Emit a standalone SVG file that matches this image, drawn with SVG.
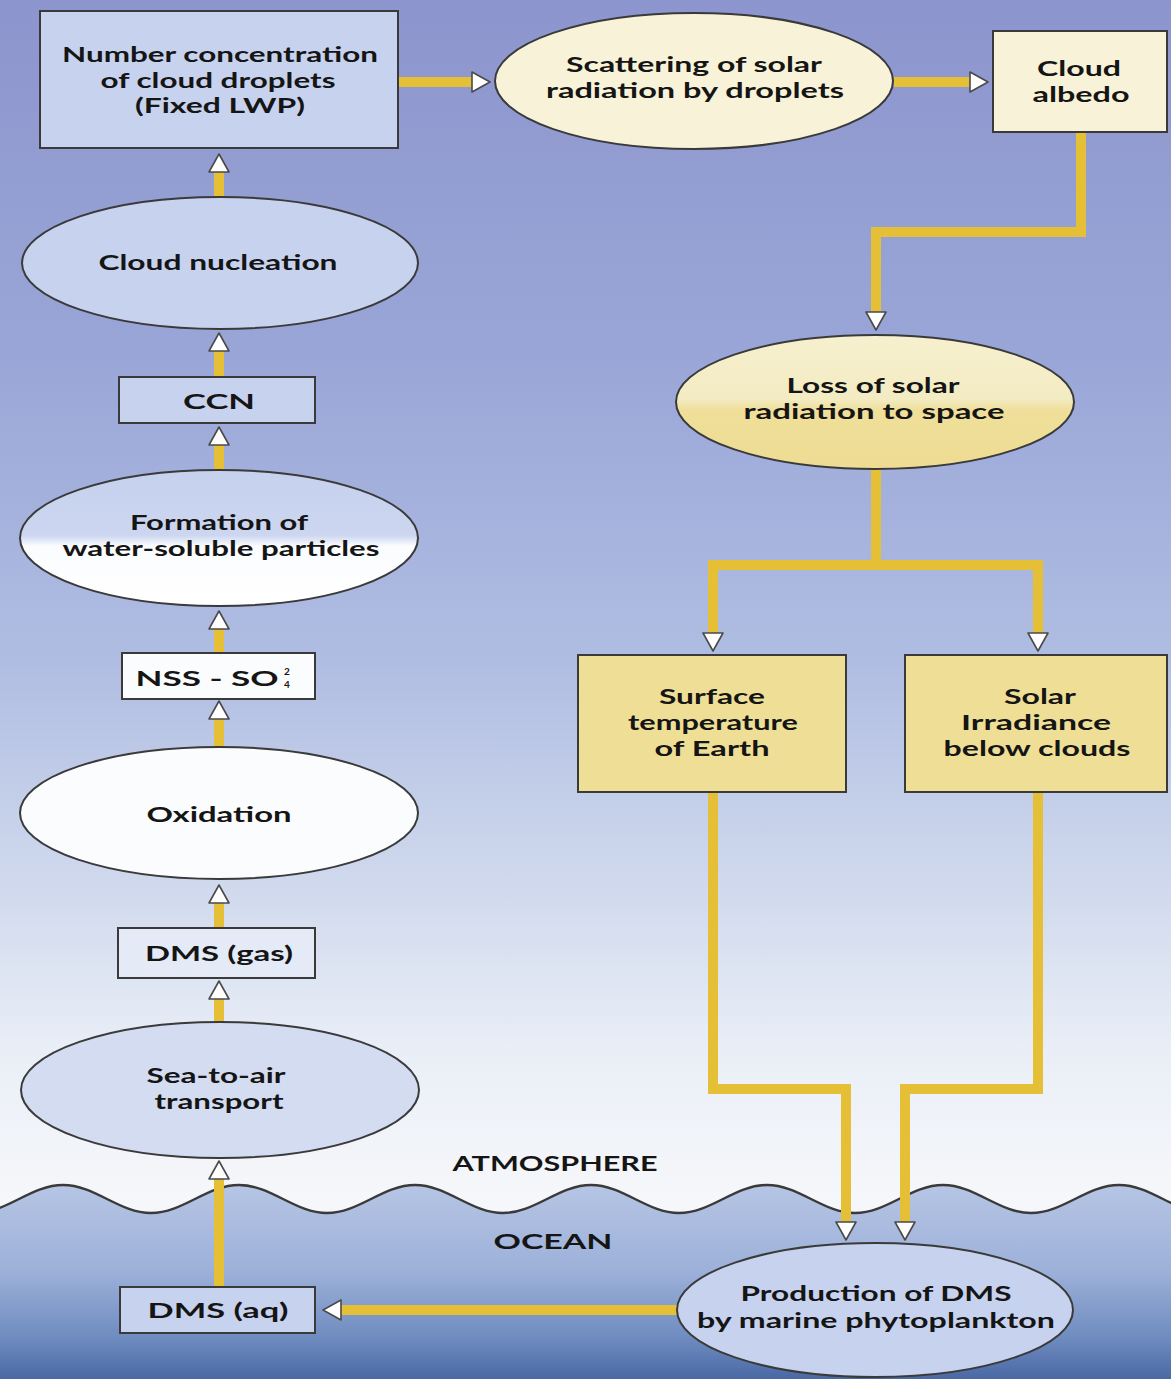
<svg xmlns="http://www.w3.org/2000/svg" width="1171" height="1379" viewBox="0 0 1171 1379">
  <defs>
    <!-- sky fades from violet-blue to near white at the sea surface -->
    <linearGradient id="sky" x1="0" y1="0" x2="0" y2="1200" gradientUnits="userSpaceOnUse">
      <stop offset="0" stop-color="#8c95cd"/>
      <stop offset="0.3" stop-color="#9aa6d7"/>
      <stop offset="0.55" stop-color="#b0bde2"/>
      <stop offset="0.75" stop-color="#d2dbee"/>
      <stop offset="0.88" stop-color="#eaeff7"/>
      <stop offset="1" stop-color="#f6f7fa"/>
    </linearGradient>
    <!-- ocean darkens with depth -->
    <linearGradient id="sea" x1="0" y1="1185" x2="0" y2="1379" gradientUnits="userSpaceOnUse">
      <stop offset="0" stop-color="#b6c5e4"/>
      <stop offset="0.45" stop-color="#9cb0d9"/>
      <stop offset="0.8" stop-color="#6d8abf"/>
      <stop offset="1" stop-color="#4a68a3"/>
    </linearGradient>
    <linearGradient id="halfBlue" x1="0" y1="0" x2="0" y2="1">
      <stop offset="0" stop-color="#c6d1ee"/>
      <stop offset="0.48" stop-color="#ccd6f0"/>
      <stop offset="0.56" stop-color="#fbfcfe"/>
      <stop offset="1" stop-color="#ffffff"/>
    </linearGradient>
    <linearGradient id="halfYellow" x1="0" y1="0" x2="0" y2="1">
      <stop offset="0" stop-color="#f6f0cf"/>
      <stop offset="0.48" stop-color="#f3ebc2"/>
      <stop offset="0.56" stop-color="#efdf9a"/>
      <stop offset="1" stop-color="#eedc93"/>
    </linearGradient>
    <!-- open white arrowhead used by every connector -->
    <marker id="head" viewBox="0 0 20 22" refX="1" refY="11" markerWidth="20" markerHeight="22" orient="auto" markerUnits="userSpaceOnUse">
      <path d="M1,1 L19,11 L1,21 Z" fill="#ffffff" stroke="#4a4a4a" stroke-width="1.6" stroke-linejoin="round"/>
    </marker>
  </defs>
  <style>
    .flow { fill: none; stroke: #e5bf36; stroke-width: 10; stroke-linejoin: miter; stroke-linecap: butt; marker-end: url(#head); }
    .node { stroke: #3a3a3a; stroke-width: 2; }
    .blue { fill: #c7d2ee; }
    .paleblue { fill: #d3dcf1; }
    .white { fill: #fbfcfe; }
    .cream { fill: #f8f3d8; }
    .yellow { fill: #efdf96; }
    text { font-family: Lato, "Liberation Sans", "DejaVu Sans", sans-serif; font-weight: 700; font-size: 21.5px; fill: #151515; text-anchor: middle; }
    .region { font-size: 21px; }
  </style>

  <!-- backdrop: sky, then the sea below the wavy surface -->
  <rect x="0" y="0" width="1171" height="1379" fill="url(#sky)"/>
  <path d="M-25,1213 C7,1213 31,1185 63,1185 C95,1185 119,1213 151,1213 C183,1213 207,1185 239,1185 C271,1185 295,1213 327,1213 C359,1213 383,1185 415,1185 C447,1185 471,1213 503,1213 C535,1213 559,1185 591,1185 C623,1185 647,1213 679,1213 C711,1213 735,1185 767,1185 C799,1185 823,1213 855,1213 C887,1213 911,1185 943,1185 C975,1185 999,1213 1031,1213 C1063,1213 1087,1185 1119,1185 C1151,1185 1175,1213 1207,1213 L1207,1379 L-25,1379 Z" fill="url(#sea)"/>
  <path d="M-25,1213 C7,1213 31,1185 63,1185 C95,1185 119,1213 151,1213 C183,1213 207,1185 239,1185 C271,1185 295,1213 327,1213 C359,1213 383,1185 415,1185 C447,1185 471,1213 503,1213 C535,1213 559,1185 591,1185 C623,1185 647,1213 679,1213 C711,1213 735,1185 767,1185 C799,1185 823,1213 855,1213 C887,1213 911,1185 943,1185 C975,1185 999,1213 1031,1213 C1063,1213 1087,1185 1119,1185 C1151,1185 1175,1213 1207,1213" fill="none" stroke="#3a3a3a" stroke-width="2.5"/>
  <text class="region" x="555" y="1171" textLength="205" lengthAdjust="spacingAndGlyphs">ATMOSPHERE</text>
  <text class="region" x="553" y="1249" textLength="119" lengthAdjust="spacingAndGlyphs">OCEAN</text>

  <g id="connectors">
    <path class="flow" d="M398,82 H472"/>
    <path class="flow" d="M894,82 H970"/>
    <path class="flow" d="M1081,132 V232 H876 V312"/>
    <path class="flow" d="M876,470 V565 H713 V633"/>
    <path class="flow" d="M876,565 H1038 V633"/>
    <path class="flow" d="M713,792 V1089 H846 V1222"/>
    <path class="flow" d="M1038,792 V1089 H905 V1222"/>
    <path class="flow" d="M678,1310 H341"/>
    <path class="flow" d="M219,1287 V1179"/>
    <path class="flow" d="M219,1023 V999"/>
    <path class="flow" d="M219,928 V903"/>
    <path class="flow" d="M219,747 V719"/>
    <path class="flow" d="M219,653 V629"/>
    <path class="flow" d="M219,470 V445"/>
    <path class="flow" d="M219,377 V351"/>
    <path class="flow" d="M219,197 V172"/>
  </g>

  <g id="droplet-number">
    <rect class="node blue" x="40" y="11" width="358" height="137"/>
    <text x="220" y="62" textLength="316" lengthAdjust="spacingAndGlyphs">Number concentration</text>
    <text x="218" y="88" textLength="235" lengthAdjust="spacingAndGlyphs">of cloud droplets</text>
    <text x="220" y="113" textLength="170" lengthAdjust="spacingAndGlyphs">(Fixed LWP)</text>
  </g>

  <g id="scattering">
    <ellipse class="node cream" cx="694" cy="81" rx="199" ry="68"/>
    <text x="694" y="72" textLength="256" lengthAdjust="spacingAndGlyphs">Scattering of solar</text>
    <text x="695" y="98" textLength="298" lengthAdjust="spacingAndGlyphs">radiation by droplets</text>
  </g>

  <g id="cloud-albedo">
    <rect class="node cream" x="993" y="31" width="174" height="101"/>
    <text x="1079" y="76" textLength="84" lengthAdjust="spacingAndGlyphs">Cloud</text>
    <text x="1081" y="102" textLength="97" lengthAdjust="spacingAndGlyphs">albedo</text>
  </g>

  <g id="cloud-nucleation">
    <ellipse class="node blue" cx="220" cy="263" rx="198" ry="66"/>
    <text x="218" y="270" textLength="239" lengthAdjust="spacingAndGlyphs">Cloud nucleation</text>
  </g>

  <g id="ccn">
    <rect class="node blue" x="119" y="377" width="196" height="46"/>
    <text x="219" y="409" textLength="72" lengthAdjust="spacingAndGlyphs">CCN</text>
  </g>

  <g id="particle-formation">
    <ellipse class="node" fill="url(#halfBlue)" cx="219" cy="538" rx="199" ry="68"/>
    <text x="219" y="530" textLength="178" lengthAdjust="spacingAndGlyphs">Formation of</text>
    <text x="221" y="556" textLength="317" lengthAdjust="spacingAndGlyphs">water-soluble particles</text>
  </g>

  <g id="nss-sulfate">
    <rect class="node white" x="122" y="653" width="193" height="46"/>
    <text x="207" y="686" textLength="143" lengthAdjust="spacingAndGlyphs">NSS - SO</text>
    <text x="287" y="675" style="font-size:10px">2</text>
    <text x="287" y="688" style="font-size:10px">4</text>
  </g>

  <g id="oxidation">
    <ellipse class="node white" cx="219" cy="813" rx="199" ry="66"/>
    <text x="219" y="822" textLength="145" lengthAdjust="spacingAndGlyphs">Oxidation</text>
  </g>

  <g id="dms-gas">
    <rect class="node" fill="#e4eaf6" x="118" y="928" width="197" height="50"/>
    <text x="219" y="961" textLength="148" lengthAdjust="spacingAndGlyphs">DMS (gas)</text>
  </g>

  <g id="sea-to-air">
    <ellipse class="node paleblue" cx="220" cy="1090" rx="199" ry="68"/>
    <text x="216" y="1083" textLength="139" lengthAdjust="spacingAndGlyphs">Sea-to-air</text>
    <text x="219" y="1109" textLength="129" lengthAdjust="spacingAndGlyphs">transport</text>
  </g>

  <g id="dms-aq">
    <rect class="node blue" x="120" y="1287" width="195" height="46"/>
    <text x="218" y="1318" textLength="141" lengthAdjust="spacingAndGlyphs">DMS (aq)</text>
  </g>

  <g id="dms-production">
    <ellipse class="node blue" cx="875" cy="1310" rx="198" ry="67"/>
    <text x="876" y="1301" textLength="271" lengthAdjust="spacingAndGlyphs">Production of DMS</text>
    <text x="876" y="1328" textLength="358" lengthAdjust="spacingAndGlyphs">by marine phytoplankton</text>
  </g>

  <g id="radiation-loss">
    <ellipse class="node" fill="url(#halfYellow)" cx="875" cy="402" rx="199" ry="67"/>
    <text x="873" y="393" textLength="173" lengthAdjust="spacingAndGlyphs">Loss of solar</text>
    <text x="874" y="419" textLength="261" lengthAdjust="spacingAndGlyphs">radiation to space</text>
  </g>

  <g id="surface-temperature">
    <rect class="node yellow" x="578" y="655" width="268" height="137"/>
    <text x="712" y="704" textLength="106" lengthAdjust="spacingAndGlyphs">Surface</text>
    <text x="713" y="730" textLength="170" lengthAdjust="spacingAndGlyphs">temperature</text>
    <text x="712" y="756" textLength="115" lengthAdjust="spacingAndGlyphs">of Earth</text>
  </g>

  <g id="solar-irradiance">
    <rect class="node yellow" x="905" y="655" width="262" height="137"/>
    <text x="1040" y="704" textLength="72" lengthAdjust="spacingAndGlyphs">Solar</text>
    <text x="1036" y="730" textLength="150" lengthAdjust="spacingAndGlyphs">Irradiance</text>
    <text x="1037" y="756" textLength="187" lengthAdjust="spacingAndGlyphs">below clouds</text>
  </g>
</svg>
